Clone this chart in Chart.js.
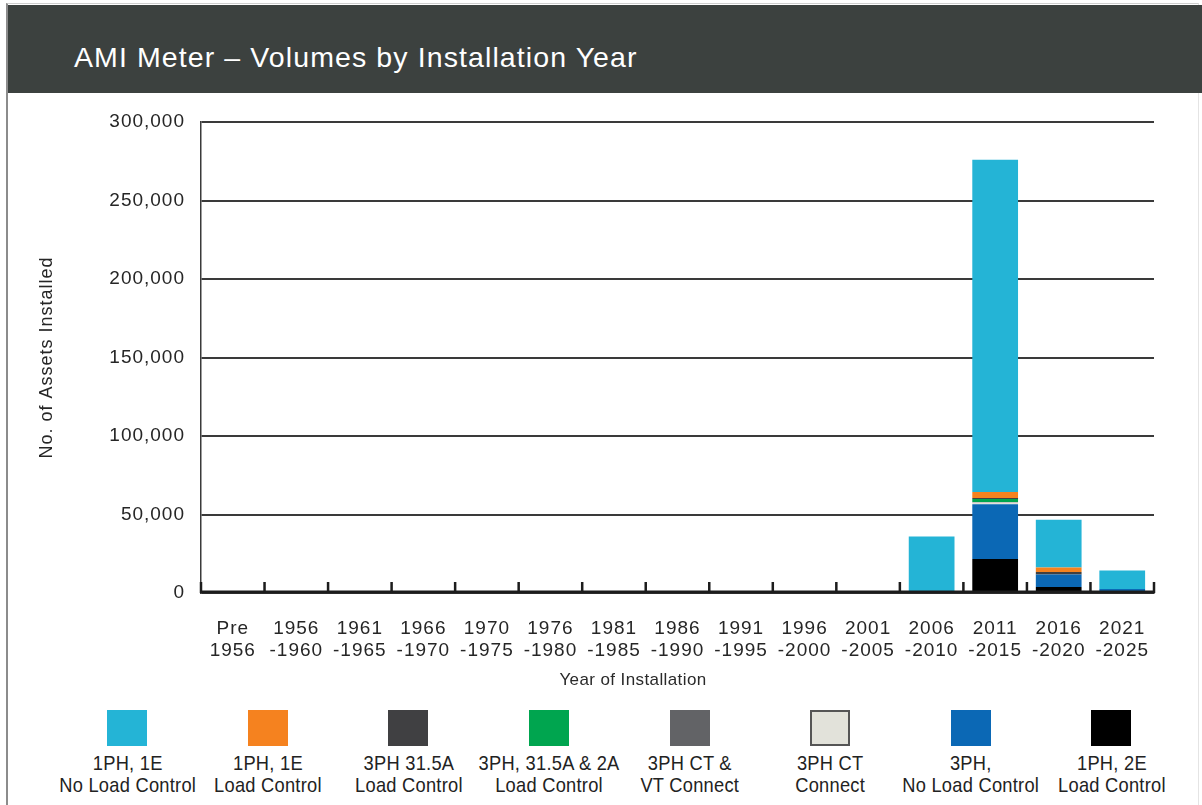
<!DOCTYPE html>
<html>
<head>
<meta charset="utf-8">
<script src="https://cdn.jsdelivr.net/npm/chart.js@4/dist/chart.umd.min.js"></script>
<style>
  html, body { margin: 0; padding: 0; background: #fff; }
  body { width: 1202px; height: 805px; position: relative; overflow: hidden; font-family: 'Liberation Sans', Arial, sans-serif; }
  .frame { position: absolute; left: 6px; top: 3px; width: 1190px; height: 810px; border-left: 2px solid #8c8c8c; border-top: 1px solid #cfcfcf; border-right: 1px solid #e4e4e4; }
  .header { position: absolute; left: 8px; top: 5px; width: 1194px; height: 88px; background: #3c413f; }
  .title { position: absolute; left: 74px; top: 43px; line-height: 28px; font-size: 28.5px; letter-spacing: 1.1px; color: #fff; white-space: nowrap; }
  .xtitle { position: absolute; left: 533px; width: 200px; top: 670px; text-align: center; font-size: 17px; line-height: 20px; letter-spacing: 0.4px; color: #2a2a2a; }
  #wrap { position: absolute; left: 0; top: 0; width: 1202px; height: 700px; }
  #legend { position: absolute; left: 57px; top: 710px; width: 1125px; display: flex; }
  .item { width: 140.6px; display: flex; flex-direction: column; align-items: center; }
  .box { width: 40px; height: 36px; box-sizing: border-box; }
  .lbl { margin-top: 6px; font-size: 21px; line-height: 22px; letter-spacing: 0.3px; color: #222; text-align: center; white-space: nowrap; transform: scaleX(0.87); }
</style>
</head>
<body>
<div class="frame"></div>
<div class="header"></div>
<div class="title">AMI Meter – Volumes by Installation Year</div>
<div id="wrap"><canvas id="amiChart"></canvas></div>
<div class="xtitle">Year of Installation</div>
<div id="legend"></div>
<script>
// Categorias (2 lineas por etiqueta)
const categories = [
    ['Pre', '1956'], ['1956', '-1960'], ['1961', '-1965'], ['1966', '-1970'], ['1970', '-1975'],
    ['1976', '-1980'], ['1981', '-1985'], ['1986', '-1990'], ['1991', '-1995'], ['1996', '-2000'],
    ['2001', '-2005'], ['2006', '-2010'], ['2011', '-2015'], ['2016', '-2020'], ['2021', '-2025']
];

// Series en el orden de la leyenda
const ph1NoLoad   = [0, 0, 0, 0, 0, 0, 0, 0, 0, 0, 0, 36000, 211700, 30300, 11900];
const ph1Load     = [0, 0, 0, 0, 0, 0, 0, 0, 0, 0, 0, 0, 3800, 3000, 0];
const ph3_315Load = [0, 0, 0, 0, 0, 0, 0, 0, 0, 0, 0, 0, 600, 1500, 0];
const ph3_2ALoad  = [0, 0, 0, 0, 0, 0, 0, 0, 0, 0, 0, 0, 2000, 0, 0];
const ph3CtVt     = [0, 0, 0, 0, 0, 0, 0, 0, 0, 0, 0, 0, 300, 0, 0];
const ph3Ct       = [0, 0, 0, 0, 0, 0, 0, 0, 0, 0, 0, 0, 1000, 0, 0];
const ph3NoLoad   = [0, 0, 0, 0, 0, 0, 0, 0, 0, 0, 0, 0, 35000, 8000, 2500];
const ph1_2ELoad  = [0, 0, 0, 0, 0, 0, 0, 0, 0, 0, 0, 0, 21600, 3800, 0];

const seriesLabels = [
    ['1PH, 1E', 'No Load Control'], ['1PH, 1E', 'Load Control'], ['3PH 31.5A', 'Load Control'],
    ['3PH, 31.5A & 2A', 'Load Control'], ['3PH CT &', 'VT Connect'], ['3PH CT', 'Connect'],
    ['3PH,', 'No Load Control'], ['1PH, 2E', 'Load Control']
];
const seriesData = [ph1NoLoad, ph1Load, ph3_315Load, ph3_2ALoad, ph3CtVt, ph3Ct, ph3NoLoad, ph1_2ELoad];
const seriesColors = ['#24b4d6', '#f5821f', '#404042', '#00a54f', '#626366', '#e2e2da', '#0b68b5', '#000000'];

const yTicks = [0, 50000, 100000, 150000, 200000, 250000, 300000];

// Leyenda HTML (cuadro arriba, texto abajo)
const legendEl = document.getElementById('legend');
seriesLabels.forEach((lbl, i) => {
    const item = document.createElement('div');
    item.className = 'item';
    const box = document.createElement('div');
    box.className = 'box';
    box.style.background = seriesColors[i];
    if (i === 5) box.style.border = '2px solid #555';
    const txt = document.createElement('div');
    txt.className = 'lbl';
    txt.innerHTML = lbl.join('<br>');
    item.appendChild(box);
    item.appendChild(txt);
    legendEl.appendChild(item);
});

// El apilado va al reves de la leyenda (negro abajo, celeste arriba)
const datasets = seriesData.map((data, i) => ({
    label: seriesLabels[i].join(' '),
    data: data,
    backgroundColor: seriesColors[i],
    borderWidth: 0,
    barPercentage: 0.72,
    categoryPercentage: 1
})).reverse();

const spacingPlugin = {
    id: 'spacing',
    beforeLayout(chart) { chart.ctx.letterSpacing = '1px'; },
    beforeDraw(chart) { chart.ctx.letterSpacing = '1px'; }
};

// Linea del eje X y marcas entre categorias
const axisPlugin = {
    id: 'axisLine',
    afterDatasetsDraw(chart) {
        const { ctx, chartArea, scales: { x } } = chart;
        const n = categories.length;
        const step = x.width / n;
        const base = chartArea.bottom - 1;
        ctx.save();
        ctx.strokeStyle = '#1c1c1c';
        ctx.lineWidth = 3;
        ctx.beginPath();
        ctx.moveTo(x.left, base);
        ctx.lineTo(x.right + 1, base);
        ctx.stroke();
        ctx.lineWidth = 2.5;
        ctx.beginPath();
        for (let i = 0; i <= n; i++) {
            const px = x.left + i * step;
            ctx.moveTo(px, base + 1);
            ctx.lineTo(px, base - 10);
        }
        ctx.stroke();
        ctx.restore();
    }
};

const ctx = document.getElementById('amiChart');
new Chart(ctx, {
    type: 'bar',
    data: { labels: categories, datasets: datasets },
    plugins: [spacingPlugin, axisPlugin],
    options: {
        responsive: true,
        maintainAspectRatio: false,
        animation: false,
        layout: { padding: { top: 122, right: 48, bottom: 10, left: 0 } },
        plugins: { legend: { display: false }, tooltip: { enabled: false } },
        scales: {
            x: {
                stacked: true,
                grid: { display: false, drawTicks: false },
                border: { display: false },
                ticks: {
                    color: '#262626',
                    font: { family: "'Liberation Sans', Arial", size: 19, lineHeight: 1.2 },
                    padding: 24,
                    maxRotation: 0,
                    autoSkip: false
                },
                afterFit(scale) { scale.height = 97; }
            },
            y: {
                stacked: true,
                min: 0,
                max: 300000,
                afterBuildTicks(scale) { scale.ticks = yTicks.map(v => ({ value: v })); },
                grid: { color: '#3a3a3a', lineWidth: 2, drawTicks: false },
                border: { display: true, color: '#3a3a3a', width: 1.5 },
                ticks: {
                    color: '#262626',
                    font: { family: "'Liberation Sans', Arial", size: 19 },
                    padding: 16,
                    callback: v => v.toLocaleString('en-US')
                },
                title: {
                    display: true,
                    text: 'No. of Assets Installed',
                    color: '#262626',
                    font: { family: "'Liberation Sans', Arial", size: 18 },
                    padding: { top: 36, bottom: 0 }
                },
                afterFit(scale) { scale.width = 201; }
            }
        }
    }
});
</script>
</body>
</html>
